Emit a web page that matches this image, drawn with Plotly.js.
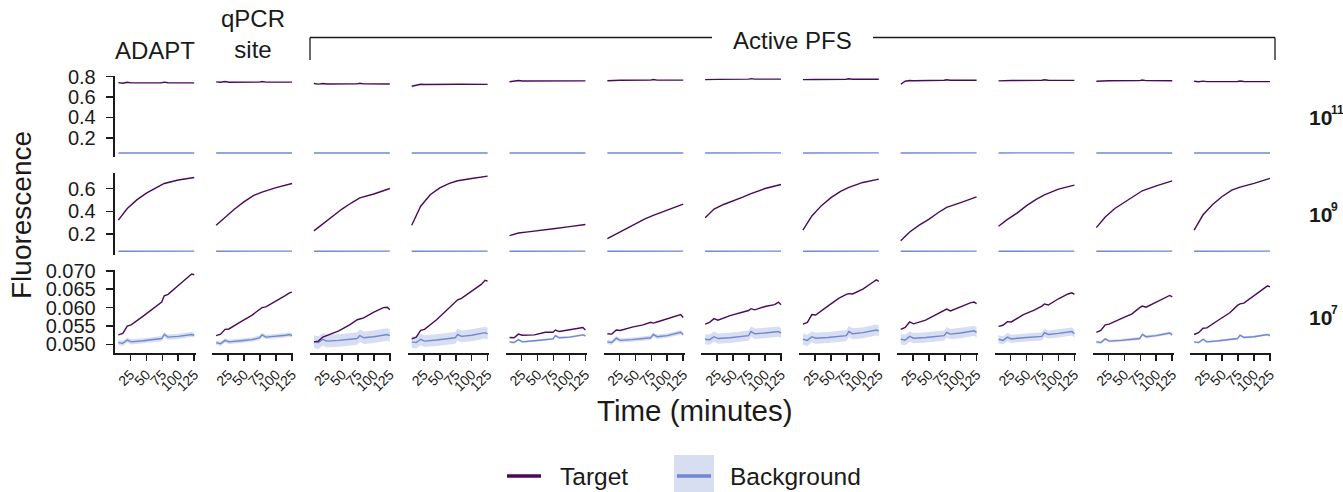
<!DOCTYPE html>
<html>
<head>
<meta charset="utf-8">
<script src="https://cdn.plot.ly/plotly-3.0.1.min.js"></script>
<style>
  html, body { margin: 0; padding: 0; background: #ffffff; }
  #chart { width: 1343px; height: 492px; }
</style>
</head>
<body>
<div id="chart"></div>
<script>
// Guide columns (left to right) and input concentration rows (top to bottom)
const guides = ['ADAPT', 'qPCR site', 'PFS 1', 'PFS 2', 'PFS 3', 'PFS 4', 'PFS 5',
                'PFS 6', 'PFS 7', 'PFS 8', 'PFS 9', 'PFS 10'];
const concBase = ['10', '10', '10'];
const concExp = ['11', '9', '7'];
const timeTicks = [25, 50, 75, 100, 125];

// Sampling times (minutes) for each row
const time11 = [6, 13, 20, 26, 74, 78, 84, 125];
const time9  = [6, 20, 35, 50, 65, 78, 100, 125];
const time7  = [6, 13, 20, 26, 45, 62, 74, 78, 84, 100, 115, 121, 125];

// 10^11 copies: mean fluorescence per guide
const target11 = [
  [0.741, 0.735, 0.745, 0.739, 0.740, 0.746, 0.740, 0.739],
  [0.748, 0.745, 0.752, 0.745, 0.746, 0.752, 0.746, 0.746],
  [0.732, 0.726, 0.732, 0.728, 0.729, 0.735, 0.729, 0.727],
  [0.705, 0.718, 0.725, 0.722, 0.724, 0.730, 0.725, 0.724],
  [0.750, 0.756, 0.762, 0.757, 0.758, 0.763, 0.758, 0.758],
  [0.760, 0.763, 0.768, 0.764, 0.766, 0.771, 0.766, 0.766],
  [0.770, 0.772, 0.777, 0.773, 0.775, 0.780, 0.775, 0.775],
  [0.770, 0.771, 0.776, 0.772, 0.774, 0.779, 0.774, 0.774],
  [0.725, 0.755, 0.762, 0.760, 0.764, 0.769, 0.764, 0.764],
  [0.758, 0.761, 0.766, 0.762, 0.764, 0.769, 0.764, 0.763],
  [0.755, 0.758, 0.763, 0.759, 0.761, 0.766, 0.761, 0.760],
  [0.754, 0.749, 0.756, 0.751, 0.752, 0.757, 0.752, 0.751]
];
const background11 = [
  [0.050, 0.050, 0.051, 0.050, 0.050, 0.051, 0.050, 0.051],
  [0.050, 0.050, 0.051, 0.050, 0.050, 0.051, 0.050, 0.051],
  [0.050, 0.050, 0.051, 0.050, 0.050, 0.051, 0.050, 0.051],
  [0.050, 0.050, 0.051, 0.050, 0.050, 0.051, 0.050, 0.051],
  [0.050, 0.050, 0.051, 0.050, 0.050, 0.051, 0.050, 0.051],
  [0.050, 0.050, 0.051, 0.050, 0.050, 0.051, 0.050, 0.051],
  [0.051, 0.051, 0.052, 0.051, 0.051, 0.052, 0.051, 0.052],
  [0.051, 0.051, 0.052, 0.051, 0.051, 0.052, 0.051, 0.052],
  [0.051, 0.051, 0.052, 0.051, 0.051, 0.052, 0.051, 0.052],
  [0.051, 0.051, 0.052, 0.051, 0.051, 0.052, 0.051, 0.052],
  [0.050, 0.050, 0.051, 0.050, 0.050, 0.051, 0.050, 0.051],
  [0.050, 0.050, 0.051, 0.050, 0.050, 0.051, 0.050, 0.051]
];

// 10^9 copies
const target9 = [
  [0.323, 0.425, 0.500, 0.560, 0.606, 0.644, 0.674, 0.696],
  [0.279, 0.350, 0.420, 0.485, 0.540, 0.568, 0.608, 0.644],
  [0.229, 0.290, 0.360, 0.420, 0.475, 0.518, 0.552, 0.600],
  [0.279, 0.445, 0.545, 0.605, 0.645, 0.668, 0.688, 0.708],
  [0.188, 0.210, 0.220, 0.229, 0.238, 0.250, 0.266, 0.285],
  [0.162, 0.203, 0.245, 0.285, 0.335, 0.365, 0.410, 0.463],
  [0.343, 0.420, 0.460, 0.490, 0.525, 0.556, 0.600, 0.635],
  [0.235, 0.360, 0.450, 0.520, 0.575, 0.610, 0.653, 0.682],
  [0.142, 0.220, 0.280, 0.330, 0.390, 0.435, 0.477, 0.527],
  [0.270, 0.330, 0.385, 0.450, 0.505, 0.545, 0.594, 0.629],
  [0.258, 0.350, 0.425, 0.480, 0.540, 0.580, 0.623, 0.667],
  [0.235, 0.370, 0.460, 0.530, 0.585, 0.612, 0.645, 0.688]
];
const background9 = [
  [0.051, 0.051, 0.051, 0.051, 0.051, 0.052, 0.051, 0.052],
  [0.051, 0.051, 0.051, 0.051, 0.051, 0.052, 0.051, 0.052],
  [0.051, 0.051, 0.051, 0.051, 0.051, 0.052, 0.051, 0.052],
  [0.051, 0.051, 0.051, 0.051, 0.051, 0.052, 0.051, 0.052],
  [0.051, 0.051, 0.051, 0.051, 0.051, 0.052, 0.051, 0.052],
  [0.051, 0.051, 0.051, 0.051, 0.051, 0.052, 0.051, 0.052],
  [0.051, 0.051, 0.051, 0.051, 0.051, 0.052, 0.051, 0.052],
  [0.051, 0.051, 0.051, 0.051, 0.051, 0.052, 0.051, 0.052],
  [0.051, 0.051, 0.051, 0.051, 0.051, 0.052, 0.051, 0.052],
  [0.051, 0.051, 0.051, 0.051, 0.051, 0.052, 0.051, 0.052],
  [0.051, 0.051, 0.051, 0.051, 0.051, 0.052, 0.051, 0.052],
  [0.051, 0.051, 0.051, 0.051, 0.051, 0.052, 0.051, 0.052]
];

// 10^7 copies
const target7 = [
  [0.0526, 0.0530, 0.0550, 0.0553, 0.0577, 0.0598, 0.0615, 0.0632, 0.0636, 0.0660, 0.0683, 0.0691, 0.0689],
  [0.0524, 0.0528, 0.0541, 0.0542, 0.0562, 0.0579, 0.0595, 0.0600, 0.0602, 0.0617, 0.0633, 0.0640, 0.0642],
  [0.0507, 0.0509, 0.0520, 0.0524, 0.0537, 0.0553, 0.0567, 0.0569, 0.0572, 0.0588, 0.0600, 0.0601, 0.0594],
  [0.0515, 0.0520, 0.0538, 0.0541, 0.0567, 0.0595, 0.0617, 0.0621, 0.0625, 0.0644, 0.0663, 0.0674, 0.0672],
  [0.0519, 0.0518, 0.0528, 0.0525, 0.0526, 0.0533, 0.0533, 0.0539, 0.0535, 0.0540, 0.0546, 0.0546, 0.0539],
  [0.0529, 0.0528, 0.0539, 0.0538, 0.0547, 0.0553, 0.0560, 0.0558, 0.0561, 0.0570, 0.0577, 0.0581, 0.0573],
  [0.0555, 0.0560, 0.0570, 0.0566, 0.0578, 0.0585, 0.0592, 0.0597, 0.0594, 0.0603, 0.0608, 0.0615, 0.0608],
  [0.0555, 0.0560, 0.0581, 0.0580, 0.0604, 0.0625, 0.0636, 0.0638, 0.0637, 0.0650, 0.0668, 0.0675, 0.0671],
  [0.0541, 0.0546, 0.0561, 0.0556, 0.0566, 0.0581, 0.0593, 0.0596, 0.0591, 0.0603, 0.0613, 0.0615, 0.0611],
  [0.0549, 0.0552, 0.0562, 0.0561, 0.0581, 0.0593, 0.0604, 0.0610, 0.0607, 0.0624, 0.0637, 0.0640, 0.0636],
  [0.0533, 0.0538, 0.0553, 0.0555, 0.0570, 0.0583, 0.0600, 0.0604, 0.0601, 0.0615, 0.0629, 0.0633, 0.0629],
  [0.0527, 0.0532, 0.0544, 0.0545, 0.0567, 0.0586, 0.0606, 0.0610, 0.0612, 0.0632, 0.0652, 0.0659, 0.0656]
];
const background7 = [
  [0.0505, 0.0503, 0.0512, 0.0507, 0.0510, 0.0513, 0.0516, 0.0527, 0.0520, 0.0522, 0.0525, 0.0527, 0.0525],
  [0.0505, 0.0502, 0.0511, 0.0507, 0.0510, 0.0513, 0.0518, 0.0526, 0.0520, 0.0522, 0.0525, 0.0527, 0.0524],
  [0.0507, 0.0505, 0.0514, 0.0509, 0.0511, 0.0514, 0.0516, 0.0524, 0.0518, 0.0521, 0.0525, 0.0527, 0.0524],
  [0.0507, 0.0505, 0.0514, 0.0509, 0.0512, 0.0515, 0.0518, 0.0527, 0.0522, 0.0525, 0.0530, 0.0532, 0.0529],
  [0.0507, 0.0505, 0.0513, 0.0507, 0.0510, 0.0513, 0.0515, 0.0524, 0.0518, 0.0520, 0.0524, 0.0526, 0.0523],
  [0.0507, 0.0505, 0.0517, 0.0511, 0.0513, 0.0516, 0.0518, 0.0527, 0.0521, 0.0524, 0.0530, 0.0533, 0.0527],
  [0.0514, 0.0513, 0.0521, 0.0516, 0.0518, 0.0521, 0.0524, 0.0535, 0.0529, 0.0531, 0.0534, 0.0535, 0.0531],
  [0.0514, 0.0511, 0.0521, 0.0517, 0.0519, 0.0522, 0.0524, 0.0535, 0.0529, 0.0532, 0.0537, 0.0539, 0.0537],
  [0.0514, 0.0512, 0.0522, 0.0517, 0.0519, 0.0522, 0.0524, 0.0533, 0.0528, 0.0531, 0.0535, 0.0537, 0.0533],
  [0.0514, 0.0511, 0.0520, 0.0515, 0.0518, 0.0520, 0.0522, 0.0532, 0.0527, 0.0530, 0.0533, 0.0535, 0.0529],
  [0.0507, 0.0505, 0.0515, 0.0509, 0.0511, 0.0514, 0.0516, 0.0527, 0.0521, 0.0524, 0.0528, 0.0531, 0.0526],
  [0.0507, 0.0505, 0.0514, 0.0507, 0.0510, 0.0513, 0.0516, 0.0525, 0.0519, 0.0521, 0.0525, 0.0527, 0.0524]
];
// Standard deviation of the background replicates at 10^7 copies
const backgroundSd7 = [0.0007, 0.0006, 0.0017, 0.0016, 0.0003, 0.0006, 0.0014, 0.0015, 0.0014, 0.0011, 0.0004, 0.0003];

// ---- styling ----
const W = 1343, H = 492;
const FONT = 'Liberation Sans, Arial, Helvetica, sans-serif';
const TARGET_COLOR = '#4a0a5a';
const BG_COLOR = '#6f88cf';
const BAND_COLOR = 'rgba(111,136,207,0.28)';
const AXIS_COLOR = '#1a1a1a';
const TEXT_COLOR = '#1a1a1a';

const px = v => v / W;
const py = v => 1 - v / H;

// panel geometry (pixels)
const colLeft0 = 114.5, colPitch = 97.8, colWidth = 81;
const rowBox = [[76, 156.7], [173.3, 255], [270, 353.3]];
const yRanges = [[0.014, 0.806], [0.018, 0.733], [0.0476, 0.0702]];
const yTicks = [[0.2, 0.4, 0.6, 0.8], [0.2, 0.4, 0.6], [0.050, 0.055, 0.060, 0.065, 0.070]];
const yFormats = ['.1f', '.1f', '.3f'];

const rowsData = [
  { t: time11, target: target11, bg: background11, sd: null },
  { t: time9, target: target9, bg: background9, sd: null },
  { t: time7, target: target7, bg: background7, sd: backgroundSd7 }
];

const traces = [];
const layout = {
  width: W, height: H,
  margin: { l: 0, r: 0, t: 0, b: 0 },
  paper_bgcolor: '#ffffff',
  plot_bgcolor: '#ffffff',
  showlegend: false,
  font: { family: FONT, color: TEXT_COLOR },
  annotations: [],
  shapes: []
};

for (let r = 0; r < 3; r++) {
  for (let c = 0; c < guides.length; c++) {
    const idx = r * guides.length + c + 1;
    const xa = 'x' + idx, ya = 'y' + idx;
    const left = colLeft0 + c * colPitch;
    const d = rowsData[r];

    layout['xaxis' + idx] = {
      domain: [px(left), px(left + colWidth)],
      anchor: ya,
      range: [0, 127],
      fixedrange: true,
      showgrid: false, zeroline: false,
      showline: r === 2, linecolor: AXIS_COLOR, linewidth: 1.8,
      ticks: r === 2 ? 'outside' : '', ticklen: 6, tickwidth: 1.6, tickcolor: AXIS_COLOR,
      tickvals: timeTicks,
      showticklabels: r === 2,
      tickangle: -45,
      tickfont: { family: FONT, size: 14, color: TEXT_COLOR }
    };
    layout['yaxis' + idx] = {
      domain: [py(rowBox[r][1]), py(rowBox[r][0])],
      anchor: xa,
      range: yRanges[r],
      fixedrange: true,
      showgrid: false, zeroline: false,
      showline: c === 0, linecolor: AXIS_COLOR, linewidth: 1.8,
      ticks: c === 0 ? 'outside' : '', ticklen: 7, tickwidth: 1.6, tickcolor: AXIS_COLOR,
      tickvals: yTicks[r],
      tickformat: yFormats[r],
      showticklabels: c === 0,
      ticklabelstandoff: 6,
      tickfont: { family: FONT, size: 20, color: TEXT_COLOR }
    };

    if (d.sd) {
      const lo = d.bg[c].map(v => v - d.sd[c]);
      const hi = d.bg[c].map(v => v + d.sd[c]);
      traces.push({ x: d.t, y: lo, xaxis: xa, yaxis: ya, type: 'scatter', mode: 'lines',
        line: { width: 0, color: BAND_COLOR }, hoverinfo: 'skip' });
      traces.push({ x: d.t, y: hi, xaxis: xa, yaxis: ya, type: 'scatter', mode: 'lines',
        fill: 'tonexty', fillcolor: BAND_COLOR, line: { width: 0, color: BAND_COLOR }, hoverinfo: 'skip' });
    }
    traces.push({ x: d.t, y: d.bg[c], xaxis: xa, yaxis: ya, type: 'scatter', mode: 'lines',
      name: 'Background', line: { color: BG_COLOR, width: 1.4 } });
    traces.push({ x: d.t, y: d.target[c], xaxis: xa, yaxis: ya, type: 'scatter', mode: 'lines',
      name: 'Target', line: { color: TARGET_COLOR, width: 1.4 } });
  }
}

// concentration strip labels on the right (base and exponent drawn separately)
const stripY = [117, 214, 317];
const stripSplit = 1330.5;
concBase.forEach((base, r) => {
  layout.annotations.push({
    xref: 'paper', yref: 'paper', x: px(stripSplit + 1), y: py(stripY[r]),
    xanchor: 'right', yanchor: 'middle', showarrow: false, borderpad: 0, borderwidth: 0,
    text: '<b>' + base + '</b>', font: { family: FONT, size: 21, color: TEXT_COLOR }
  });
  layout.annotations.push({
    xref: 'paper', yref: 'paper', x: px(stripSplit), y: py(stripY[r] - 7),
    xanchor: 'left', yanchor: 'middle', showarrow: false, borderpad: 0, borderwidth: 0,
    text: '<b>' + concExp[r] + '</b>', font: { family: FONT, size: 12, color: TEXT_COLOR }
  });
});

// guide headers
layout.annotations.push({
  xref: 'paper', yref: 'paper', x: px(155), y: py(51),
  xanchor: 'center', yanchor: 'middle', showarrow: false,
  text: guides[0], font: { family: FONT, size: 24, color: TEXT_COLOR }
});
layout.annotations.push({
  xref: 'paper', yref: 'paper', x: px(253), y: py(65),
  xanchor: 'center', yanchor: 'bottom', showarrow: false,
  text: 'qPCR<br>site', font: { family: FONT, size: 24, color: TEXT_COLOR }
});
layout.annotations.push({
  xref: 'paper', yref: 'paper', x: px(792.5), y: py(40),
  xanchor: 'center', yanchor: 'middle', showarrow: false,
  text: 'Active PFS', font: { family: FONT, size: 24, color: TEXT_COLOR }
});
// bracket spanning the PFS columns
const bracket = { type: 'line', xref: 'paper', yref: 'paper', line: { color: TEXT_COLOR, width: 1.3 } };
layout.shapes.push(Object.assign({}, bracket, { x0: px(310), x1: px(712), y0: py(37.5), y1: py(37.5) }));
layout.shapes.push(Object.assign({}, bracket, { x0: px(873), x1: px(1275), y0: py(37.5), y1: py(37.5) }));
layout.shapes.push(Object.assign({}, bracket, { x0: px(310), x1: px(310), y0: py(37.5), y1: py(60) }));
layout.shapes.push(Object.assign({}, bracket, { x0: px(1275), x1: px(1275), y0: py(37.5), y1: py(60) }));

// axis titles
layout.annotations.push({
  xref: 'paper', yref: 'paper', x: px(21), y: py(215),
  xanchor: 'center', yanchor: 'middle', showarrow: false, textangle: -90,
  text: 'Fluorescence', font: { family: FONT, size: 28, color: TEXT_COLOR }
});
layout.annotations.push({
  xref: 'paper', yref: 'paper', x: px(695), y: py(410),
  xanchor: 'center', yanchor: 'middle', showarrow: false,
  text: 'Time (minutes)', font: { family: FONT, size: 29.5, color: TEXT_COLOR }
});

// legend
layout.shapes.push({ type: 'line', xref: 'paper', yref: 'paper',
  x0: px(507), x1: px(541), y0: py(476), y1: py(476), line: { color: TARGET_COLOR, width: 3.5 } });
layout.shapes.push({ type: 'rect', xref: 'paper', yref: 'paper',
  x0: px(674), x1: px(714), y0: py(455), y1: py(492), fillcolor: BAND_COLOR, line: { width: 0 } });
layout.shapes.push({ type: 'line', xref: 'paper', yref: 'paper',
  x0: px(677), x1: px(711), y0: py(476), y1: py(476), line: { color: BG_COLOR, width: 3.5 } });
layout.annotations.push({
  xref: 'paper', yref: 'paper', x: px(558), y: py(476),
  xanchor: 'left', yanchor: 'middle', showarrow: false,
  text: 'Target', font: { family: FONT, size: 24.5, color: TEXT_COLOR }
});
layout.annotations.push({
  xref: 'paper', yref: 'paper', x: px(728), y: py(476),
  xanchor: 'left', yanchor: 'middle', showarrow: false,
  text: 'Background', font: { family: FONT, size: 24.5, color: TEXT_COLOR }
});

Plotly.newPlot('chart', traces, layout, { displayModeBar: false, staticPlot: true });
</script>
</body>
</html>
